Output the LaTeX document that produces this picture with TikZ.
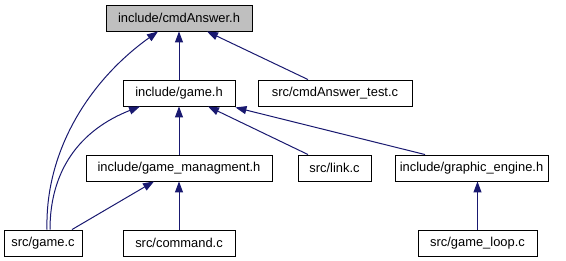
\documentclass[tikz,border=0pt]{standalone}
\usepackage{fontspec}
\setmainfont{Liberation Sans}
\usetikzlibrary{arrows.meta}
\definecolor{edgeblue}{HTML}{191970}
\definecolor{rootgray}{HTML}{BFBFBF}
\begin{document}
\begin{tikzpicture}[x=1pt,y=-1pt,
  filebox/.style={draw=black,line width=0.9pt,fill=white,minimum height=26pt,
    inner sep=0pt,font=\fontsize{12.9}{15}\selectfont},
  rootbox/.style={filebox,fill=rootgray},
  dep/.style={draw=edgeblue,line width=1pt,
    -{Triangle[length=11pt,width=8pt,fill=edgeblue]}}]
\useasboundingbox (0,0) rectangle (566,261);
% files
\node[rootbox,minimum width=146pt] (cmdA) at (179,18) {include/cmdAnswer.h};
\node[filebox,minimum width=112pt] (gameh) at (179,93) {include/game.h};
\node[filebox,minimum width=154pt] (test) at (335,93) {src/cmdAnswer\_test.c};
\node[filebox,minimum width=186pt] (gm) at (179,168) {include/game\_managment.h};
\node[filebox,minimum width=73pt] (link) at (334.5,168) {src/link.c};
\node[filebox,minimum width=153pt] (ge) at (471.5,168) {include/graphic\_engine.h};
\node[filebox,minimum width=78pt] (gamec) at (43,243) {src/game.c};
\node[filebox,minimum width=112pt] (cmd) at (179,243) {src/command.c};
\node[filebox,minimum width=119pt] (loop) at (477.5,243) {src/game\_loop.c};
% attachment points on the box borders
\coordinate (gamecA) at (gamec.north -| 47,0);
\coordinate (gamecB) at (gamec.north -| 50,0);
\coordinate (gamecC) at (gamec.north -| 72,0);
\coordinate (cmdAL) at (cmdA.south -| 158,0);
\coordinate (cmdAR) at (cmdA.south -| 207,0);
\coordinate (testT) at (test.north -| 308,0);
\coordinate (gamehL) at (gameh.south -| 140,0);
\coordinate (gamehM) at (gameh.south -| 208,0);
\coordinate (gamehR) at (gameh.south east);
\coordinate (linkT) at (link.north -| 308,0);
\coordinate (geT) at (ge.north -| 425,0);
\coordinate (gmL) at (gm.south -| 154,0);
\coordinate (loopT) at (loop.north);
\coordinate (geB) at (ge.south -| loop.north);
% include edges
\draw[dep] (gameh.north) -- (cmdA.south);
\draw[dep] (testT) -- (cmdAR);
\draw[dep] (gamecA) .. controls (45,150) and (90,80) .. (cmdAL);
\draw[dep] (gm.north) -- (gameh.south);
\draw[dep] (gamecB) .. controls (50,170) and (80,130) .. (gamehL);
\draw[dep] (linkT) -- (gamehM);
\draw[dep] (geT) -- ([yshift=-1pt]gamehR);
\draw[dep] (gamecC) -- (gmL);
\draw[dep] (cmd.north) -- (gm.south);
\draw[dep] (loopT) -- (geB);
\end{tikzpicture}
\end{document}
